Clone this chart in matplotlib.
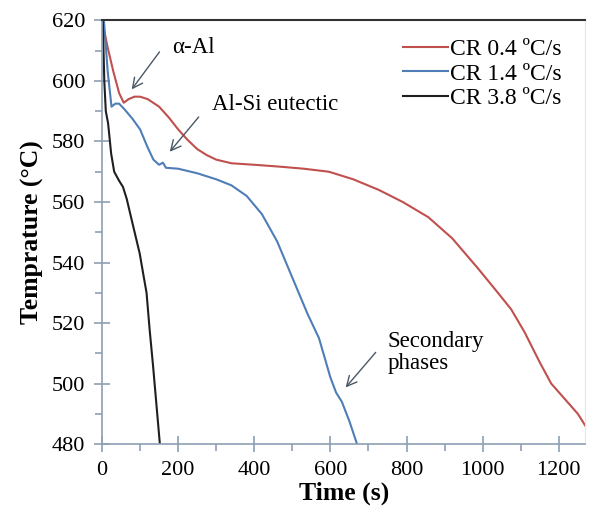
import matplotlib
matplotlib.use("Agg")
import matplotlib.pyplot as plt
from matplotlib.ticker import MultipleLocator

# cooling curves
t_04 = [0, 15, 30, 45, 57, 70, 85, 100, 120, 150, 175, 200, 225, 250, 275, 300, 340, 400, 465,
        530, 596, 660, 727, 790, 857, 920, 988, 1040, 1075, 1110, 1150, 1180, 1215, 1250, 1280]
T_04 = [620, 611, 603, 596, 592.8, 594, 594.8, 594.8, 594, 591.5, 588, 584, 580.5, 577.5, 575.5,
        574, 572.8, 572.3, 571.7, 571, 570, 567.5, 564, 560, 555, 548, 538, 530, 524.5, 517,
        507, 500, 495, 490, 484]

t_14 = [5, 15, 25, 35, 45, 60, 80, 100, 120, 135, 150, 160, 168, 180, 200, 250, 300, 340,
        380, 420, 460, 500, 540, 570, 600, 615, 630, 650, 670]
T_14 = [620, 603, 591.5, 592.5, 592.5, 590.5, 587.5, 584, 578, 574, 572.3, 573, 571.3, 571.2,
        571, 569.5, 567.5, 565.5, 562, 556, 547, 535, 523, 515, 502, 497, 494, 487.5, 480]

t_38 = [2, 6, 10, 16, 24, 32, 45, 55, 65, 80, 99, 110, 117, 125, 134, 143, 152]
T_38 = [620, 600, 590, 586, 576, 570, 567, 565, 561, 553, 543, 535, 530, 518, 506, 493, 480]

labels = ["CR 0.4 ºC/s", "CR 1.4 ºC/s", "CR 3.8 ºC/s"]
colors = ["#C0504D", "#4F7DB8", "#1f1f1f"]

plt.rcParams['font.family'] = ['Liberation Serif', 'DejaVu Serif']

fig = plt.figure(figsize=(5.91, 5.11), dpi=100)
ax = fig.add_axes([0.1726, 0.131, 0.818, 0.829])

ax.plot(t_04, T_04, color=colors[0], lw=1.5, label=labels[0])
ax.plot(t_14, T_14, color=colors[1], lw=1.5, label=labels[1])
ax.plot(t_38, T_38, color=colors[2], lw=1.5, label=labels[2])

ax.set_xlim(0, 1270)
ax.set_ylim(480, 620)
ax.xaxis.set_major_locator(MultipleLocator(200))
ax.xaxis.set_minor_locator(MultipleLocator(100))
ax.yaxis.set_major_locator(MultipleLocator(20))
ax.yaxis.set_minor_locator(MultipleLocator(10))

spine_col = "#8EA0B4"
for s in ["left", "bottom"]:
    ax.spines[s].set_color(spine_col)
    ax.spines[s].set_linewidth(1.2)
ax.spines["top"].set_color("#333333")
ax.spines["top"].set_linewidth(1.5)
ax.spines["right"].set_color("#e6e6e6")
ax.spines["right"].set_linewidth(0.8)

ax.tick_params(which="major", direction="inout", length=12, width=1.2, color=spine_col,
               labelsize=16, pad=6)
ax.tick_params(which="minor", direction="out", length=5, width=1.2, color=spine_col)

ax.set_xlabel("Time (s)", fontsize=18.5, fontweight="bold", labelpad=1)
ax.set_ylabel("Temprature (°C)", fontsize=18.5, fontweight="bold", labelpad=6)

ax.legend(loc="upper right", frameon=False, fontsize=17, handlelength=1.9,
          handletextpad=0.1, labelspacing=0.12, borderaxespad=0.2,
          bbox_to_anchor=(0.98, 0.99))

# annotation texts and arrows (tail -> head)
arrow = dict(arrowstyle="->", color="#4a5866", lw=1.0, mutation_scale=18,
             shrinkA=0, shrinkB=0)
ax.text(185, 610.9, "α-Al", fontsize=16.5, va="center")
ax.annotate("", xy=(78, 597.2), xytext=(151, 609.6), arrowprops=arrow)
ax.text(288, 592.1, "Al-Si eutectic", fontsize=16.5, va="center")
ax.annotate("", xy=(178, 576.6), xytext=(254, 588.1), arrowprops=arrow)
ax.text(750, 510.3, "Secondary\nphases", fontsize=16.5, va="center", ha="left",
        linespacing=1.05)
ax.annotate("", xy=(640, 498.7), xytext=(719, 510.3), arrowprops=arrow)

fig.savefig("out.png", dpi=100)
